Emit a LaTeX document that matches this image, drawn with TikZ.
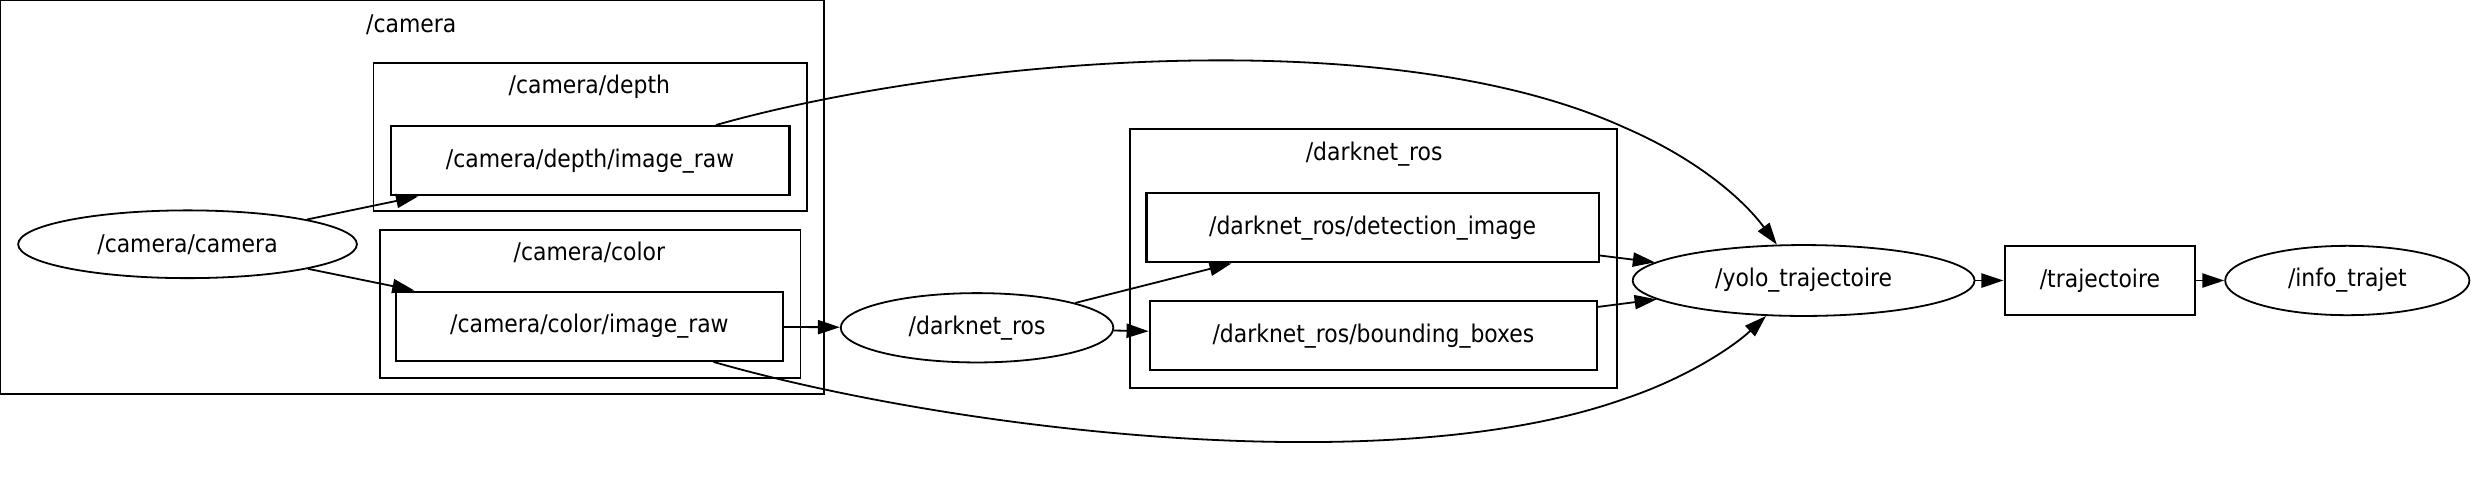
\documentclass[tikz,border=0pt]{standalone}
\usepackage{fontspec}
\setmainfont{DejaVu Sans Condensed}
\usetikzlibrary{shapes.geometric,arrows.meta}

\begin{document}
\begin{tikzpicture}[x=0.02cm,y=-0.02cm,line width=0.65pt,
		font=\fontsize{8.8}{10}\selectfont,
		grp/.style={draw,rectangle,inner sep=0pt},
		topic/.style={draw,rectangle,line width=0.75pt,minimum height=0.88cm,inner sep=0pt},
		rosnode/.style={draw,ellipse,inner sep=0pt},
		>={Triangle[length=0.28cm,width=0.18cm]}]
			\useasboundingbox (0,0) rectangle (1568,307);
			% groups
			\node[grp, minimum width=10.46cm, minimum height=5cm] (camgrp) at (261.5,125) {};
			\node (camlbl) at (261,16) {/camera};
			\node[grp, minimum width=5.5cm, minimum height=1.88cm] (depthgrp) at (374.5,87) {};
			\node (depthlbl) at (374,55) {/camera/depth};
			\node[grp, minimum width=5.34cm, minimum height=1.88cm] (colorgrp) at (374.5,193) {};
			\node (colorlbl) at (374,160) {/camera/color};
			\node[grp, minimum width=6.18cm, minimum height=3.28cm] (darkgrp) at (871.5,164) {};
			\node (darklbl) at (872,98) {/darknet\_ros};
			% topics and nodes
			\node[rosnode, minimum width=4.3cm, minimum height=0.86cm] (camcam) at (119,155) {/camera/camera};
			\node[topic, minimum width=5.06cm] (depthraw) at (374.5,102) {/camera/depth/image\_raw};
			\node[topic, minimum width=4.92cm] (colorraw) at (374,207) {/camera/color/image\_raw};
			\node[rosnode, minimum width=3.46cm, minimum height=0.88cm] (darknet) at (620,208) {/darknet\_ros};
			\node[topic, minimum width=5.74cm] (detect) at (871,144.5) {/darknet\_ros/detection\_image};
			\node[topic, minimum width=5.68cm] (bbox) at (871.5,213) {/darknet\_ros/bounding\_boxes};
			\node[rosnode, minimum width=4.34cm, minimum height=0.9cm] (yolo) at (1144.5,178) {/yolo\_trajectoire};
			\node[topic, minimum width=2.42cm] (traj) at (1332.5,178) {/trajectoire};
			\node[rosnode, minimum width=3.1cm, minimum height=0.88cm] (info) at (1489.5,178) {/info\_trajet};
			% connectors
			\coordinate (uppass) at (1031,81);
			\coordinate (lowpass) at (1031,253);
			\draw[->] (camcam) -- (depthraw);
			\draw[->] (camcam) -- (colorraw);
			\draw[->] (colorraw) -- (darknet);
			\draw[->] (darknet) -- (detect);
			\draw[->] (darknet) -- (bbox);
			\draw[->] (detect) -- (yolo);
			\draw[->] (bbox) -- (yolo);
			\draw[->] (depthraw) .. controls (600,38) and (880,12) .. (uppass) .. controls (1075,100) and (1105,125) .. (yolo);
			\draw[->] (colorraw) .. controls (600,272) and (880,307) .. (lowpass) .. controls (1070,240) and (1100,220) .. (yolo);
			\draw[->] (yolo) -- (traj);
			\draw[->] (traj) -- (info);
		\end{tikzpicture}
\end{document}
